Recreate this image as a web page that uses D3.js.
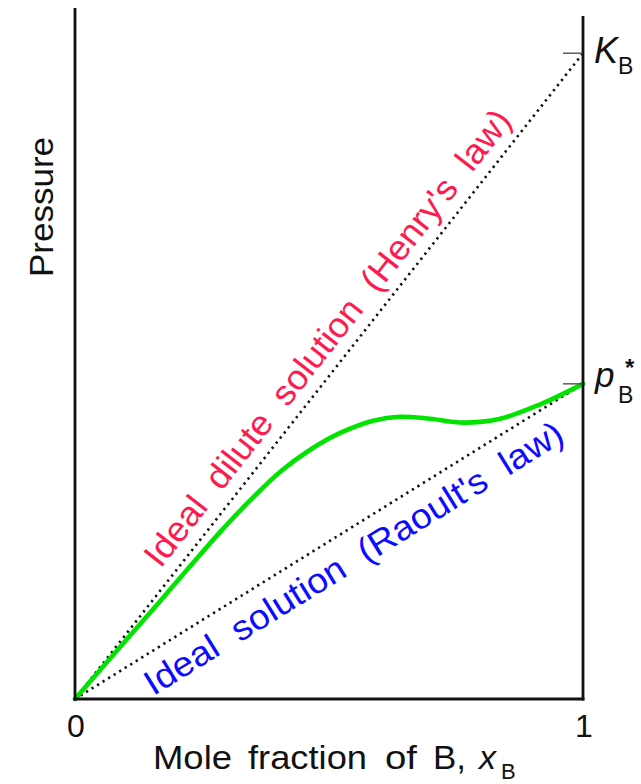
<!DOCTYPE html>
<html>
<head>
<meta charset="utf-8">
<script src="https://cdn.jsdelivr.net/npm/d3@7"></script>
<style>
  html, body { margin: 0; padding: 0; background: #fff; }
  svg { display: block; font-family: "Liberation Sans", Arial, Helvetica, sans-serif; }
  text { white-space: pre; }
</style>
</head>
<body>
<svg id="chart" width="641" height="784"></svg>
<script>
// Mole fraction of B and the measured (real) vapour pressure of B
const xFrac    = [0, 0.108, 0.167, 0.226, 0.285, 0.344, 0.404, 0.463, 0.522, 0.587, 0.640, 0.699, 0.764, 0.837, 0.915, 1];
const pressure = [0, 0.098, 0.151, 0.205, 0.258, 0.307, 0.352, 0.386, 0.412, 0.431, 0.437, 0.434, 0.428, 0.434, 0.456, 0.488];

// Limiting laws: Henry's constant K_B and pure-liquid vapour pressure p*_B
const henryK = 1.0;
const pStar = 0.488;

const xTicks = [0, 1];
const xTickLabels = ["0", "1"];
const labelHenry = "Ideal  dilute  solution  (Henry's  law)";
const labelRaoult = "Ideal  solution  (Raoult's  law)";

const svg = d3.select("#chart");
const x = d3.scaleLinear().domain([0, 1]).range([75, 583]);
const y = d3.scaleLinear().domain([0, 1.07]).range([699, 8]);

const font = 33;

// Limiting-law lines (dotted)
const line = d3.line().x(d => x(d[0])).y(d => y(d[1]));
[[[0, 0], [1, henryK]], [[0, 0], [1, pStar]]].forEach(seg => {
  svg.append("path")
    .attr("d", line(seg))
    .attr("fill", "none")
    .attr("stroke", "#111")
    .attr("stroke-width", 2.6)
    .attr("stroke-dasharray", "2.3 4.2");
});

// Real solution curve
const curve = d3.line()
  .x((d, i) => x(xFrac[i]))
  .y(d => y(d))
  .curve(d3.curveCatmullRom.alpha(0.5));
svg.append("path")
  .attr("d", curve(pressure))
  .attr("fill", "none")
  .attr("stroke", "#00e400")
  .attr("stroke-width", 4.6)
  .attr("stroke-linecap", "round");

// Frame: left and right pressure axes, composition axis
const axisG = svg.append("g").attr("stroke", "#111").attr("stroke-width", 2.8).attr("fill", "none");
axisG.append("line").attr("x1", x(0)).attr("x2", x(0)).attr("y1", 8).attr("y2", y(0) + 1.4);
axisG.append("line").attr("x1", x(1)).attr("x2", x(1)).attr("y1", 16).attr("y2", y(0) + 1.4);
axisG.append("line").attr("x1", x(0) - 1.4).attr("x2", x(1) + 1.4).attr("y1", y(0)).attr("y2", y(0));

// Right-hand ticks at K_B and p*_B
[henryK, pStar].forEach(v => {
  svg.append("line")
    .attr("x1", x(1) - 20).attr("x2", x(1))
    .attr("y1", y(v)).attr("y2", y(v))
    .attr("stroke", "#444").attr("stroke-width", 1.3);
});

// x tick labels
xTicks.forEach((t, i) => {
  svg.append("text")
    .attr("x", x(t) + 1)
    .attr("y", 737)
    .attr("text-anchor", "middle")
    .attr("font-size", 32)
    .attr("fill", "#111")
    .text(xTickLabels[i]);
});

// x axis title
const titleWords = [
  { t: "Mole", x: 153, w: 79 },
  { t: "fraction", x: 248, w: 119 },
  { t: "of", x: 385, w: 32 },
  { t: "B,", x: 433, w: 33 }
];
titleWords.forEach(wd => {
  svg.append("text")
    .attr("x", wd.x).attr("y", 769)
    .attr("font-size", font)
    .attr("fill", "#111")
    .attr("textLength", wd.w)
    .attr("lengthAdjust", "spacingAndGlyphs")
    .text(wd.t);
});
svg.append("text")
  .attr("x", 479).attr("y", 769)
  .attr("font-size", font + 1)
  .attr("font-style", "italic")
  .attr("fill", "#111")
  .text("x");
svg.append("text")
  .attr("x", 501).attr("y", 779)
  .attr("font-size", 22)
  .attr("fill", "#111")
  .text("B");

// y axis title
svg.append("text")
  .attr("transform", "translate(53,207) rotate(-90)")
  .attr("text-anchor", "middle")
  .attr("font-size", font)
  .attr("fill", "#111")
  .attr("textLength", 140)
  .attr("lengthAdjust", "spacingAndGlyphs")
  .text("Pressure");

// Right-hand labels K_B and p*_B
svg.append("text")
  .attr("x", 594).attr("y", y(henryK) + 10)
  .attr("font-size", 36).attr("font-style", "italic").attr("fill", "#111")
  .text("K");
svg.append("text")
  .attr("x", 618).attr("y", y(henryK) + 21)
  .attr("font-size", 23).attr("fill", "#111")
  .text("B");
svg.append("text")
  .attr("x", 595).attr("y", y(pStar) + 3)
  .attr("font-size", 35).attr("font-style", "italic").attr("fill", "#111")
  .text("p");
svg.append("text")
  .attr("x", 618).attr("y", y(pStar) + 19)
  .attr("font-size", 23).attr("fill", "#111")
  .text("B");
svg.append("text")
  .attr("x", 625).attr("y", y(pStar) - 8)
  .attr("font-size", 24).attr("font-weight", "bold").attr("fill", "#111")
  .text("*");

// Labels running along the limiting-law lines
function lineLabel(k, text, along, offset, side, length, color) {
  const x0 = x(0), y0 = y(0);
  const dx = x(1) - x0, dy = y(k) - y0;
  const len = Math.hypot(dx, dy);
  const ux = dx / len, uy = dy / len;
  // normal pointing above (side = -1) or below (side = +1) the line
  const nx = -uy * side, ny = ux * side;
  const px = x0 + along * ux + offset * nx;
  const py = y0 + along * uy + offset * ny;
  const ang = Math.atan2(dy, dx) * 180 / Math.PI;
  svg.append("text")
    .attr("transform", `translate(${px},${py}) rotate(${ang})`)
    .attr("font-size", 35)
    .attr("fill", color)
    .attr("textLength", length)
    .attr("lengthAdjust", "spacingAndGlyphs")
    .text(text);
}
lineLabel(henryK, labelHenry, 155, 13, -1, 570, "#ff1a4f");
lineLabel(pStar, labelRaoult, 68, 39, 1, 486, "#0c0cff");
</script>
</body>
</html>
